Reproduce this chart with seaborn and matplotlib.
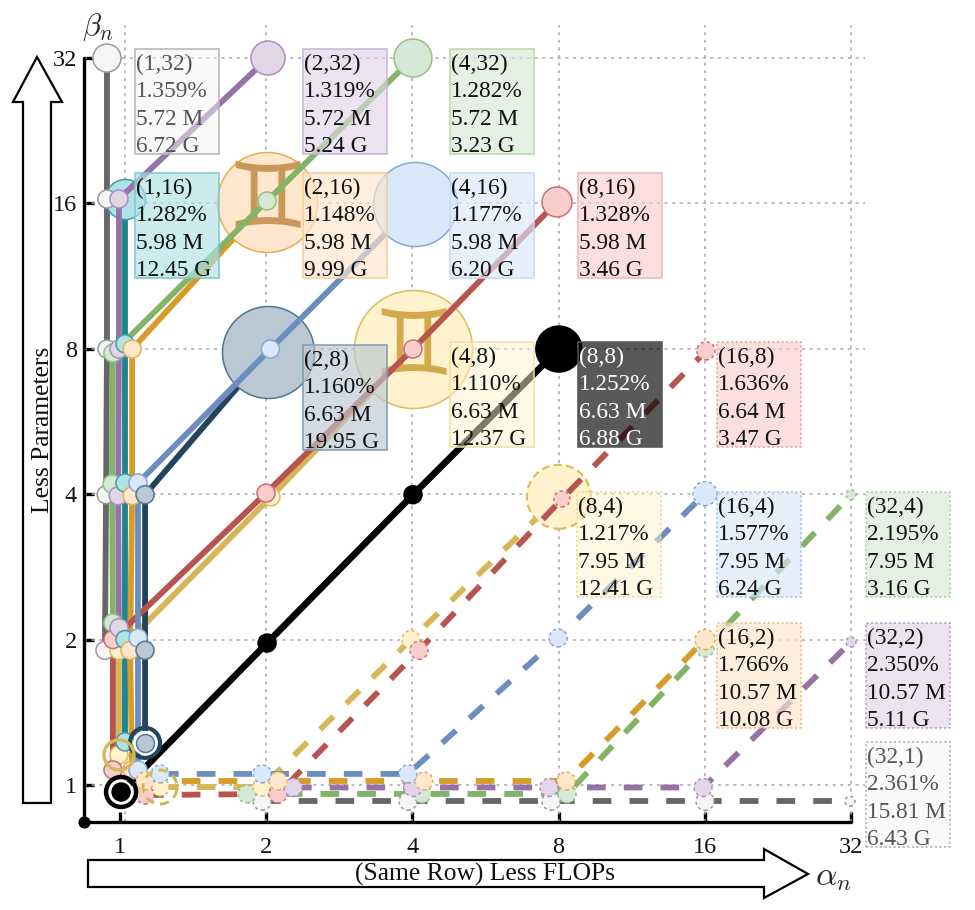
import numpy as np
import matplotlib
matplotlib.use('Agg')
import matplotlib.pyplot as plt
from matplotlib.patches import Rectangle, Polygon
from matplotlib.colors import to_rgba
import seaborn as sns

# tick labels
alpha_ticks = [1, 2, 4, 8, 16, 32]
beta_ticks = [1, 2, 4, 8, 16, 32]

# each config: solid part (a, b, node radius), then dashed part
gray_a = [0.94, 0.94, 0.94, 0.936, 0.931]
gray_b = [32, 16.34, 7.99, 3.99, 1.90]
gray_r = [14, 9, 9, 9, 9]
gray_da = [1.961, 3.917, 7.72, 16.02, 31.85]
gray_db = [0.925, 0.925, 0.925, 0.925, 0.925]
gray_dr = [9, 9, 9, 9, 5]

green_a = [4.011, 2.008, 0.967, 0.963, 0.967]
green_b = [32, 16.19, 7.84, 4.20, 2.165]
green_r = [19, 9, 9, 9, 9]
green_da = [1.826, 4.187, 8.33, 16.02, 32]
green_db = [0.958, 0.958, 0.958, 1.92, 3.99]
green_dr = [9, 9, 9, 9, 5]

red_a = [7.94, 4.011, 1.998, 0.967, 0.967]
red_b = [16.11, 7.99, 4.02, 2.0, 1.074]
red_r = [15, 9, 9, 9, 9]
red_da = [1.126, 2.115, 4.127, 8.13, 16.09]
red_db = [0.953, 0.958, 1.90, 3.91, 7.92]
red_dr = [9, 9, 9, 8, 9]

purple_a = [2.017, 0.995, 0.995, 0.991, 0.995]
purple_b = [32, 16.34, 7.99, 3.97, 2.117]
purple_r = [17, 9, 9, 9, 9]
purple_da = [2.271, 4.011, 7.64, 15.87, 32]
purple_db = [0.988, 0.988, 0.988, 0.988, 1.976]
purple_dr = [9, 9, 9, 9, 5]

yellow_a = [4.011, 2.046, 0.995, 0.995]
yellow_b = [7.99, 3.95, 1.90, 1.154]
yellow_r = [59, 9, 9, 9]
yellow_da = [1.209, 1.961, 3.973, 8.01]
yellow_db = [0.99, 0.99, 2.0, 3.95]
yellow_dr = [9, 9, 9, 32]

teal_a = [1.024, 1.024, 1.024, 1.024, 1.024]
teal_b = [16.34, 8.19, 4.22, 2.0, 1.228]
teal_r = [20, 9, 9, 9, 9]

orange_a = [2.008, 1.059, 1.059, 1.049, 1.059]
orange_b = [16.11, 7.99, 3.97, 1.90, 1.074]
orange_r = [50, 9, 9, 9, 9]
orange_da = [1.126, 2.115, 4.225, 8.29, 16.02]
orange_db = [1.019, 1.019, 1.019, 1.019, 2.0]
orange_dr = [9, 9, 9, 9, 10]

blue_a = [4.05, 2.04, 1.089, 1.089, 1.089]
blue_b = [15.95, 7.99, 4.22, 2.015, 1.074]
blue_r = [42, 9, 9, 9, 9]
blue_da = [1.209, 1.961, 3.917, 7.98, 16.02]
blue_db = [1.054, 1.054, 1.054, 2.015, 4.01]
blue_dr = [9, 9, 9, 9, 12]

navy_a = [2.017, 1.126, 1.126, 1.126]
navy_b = [7.88, 3.99, 1.90, 1.222]
navy_r = [46, 9, 9, 9]

black_a = [8.01, 4.011, 2.008, 1.005]
black_b = [7.99, 3.99, 1.967, 0.967]
black_r = [23, 9, 9, 9]

# annotation boxes
box_names = ['(1,32)', '(1,16)', '(2,32)', '(2,16)', '(4,32)', '(4,16)', '(8,16)',
             '(2,8)', '(4,8)', '(8,8)', '(16,8)', '(8,4)', '(16,4)', '(32,4)',
             '(16,2)', '(32,2)', '(32,1)']
box_err = ['1.359%', '1.282%', '1.319%', '1.148%', '1.282%', '1.177%', '1.328%',
           '1.160%', '1.110%', '1.252%', '1.636%', '1.217%', '1.577%', '2.195%',
           '1.766%', '2.350%', '2.361%']
box_params = ['5.72 M', '5.98 M', '5.72 M', '5.98 M', '5.72 M', '5.98 M', '5.98 M',
              '6.63 M', '6.63 M', '6.63 M', '6.64 M', '7.95 M', '7.95 M', '7.95 M',
              '10.57 M', '10.57 M', '15.81 M']
box_flops = ['6.72 G', '12.45 G', '5.24 G', '9.99 G', '3.23 G', '6.20 G', '3.46 G',
             '19.95 G', '12.37 G', '6.88 G', '3.47 G', '12.41 G', '6.24 G', '3.16 G',
             '10.08 G', '5.11 G', '6.43 G']

W, H = 975, 910
GRAY, GREEN, RED, PURPLE = '#666666', '#82b366', '#b85450', '#9673a6'
YELLOW, TEAL, ORANGE, BLUE, NAVY = '#d6b656', '#1f8490', '#d79b28', '#6c8ebf', '#23445d'

sns.set_theme(style='white')
plt.rcParams['font.family'] = ['Liberation Serif', 'DejaVu Sans']
plt.rcParams['mathtext.fontset'] = 'cm'

fig = plt.figure(figsize=(W / 100, H / 100), dpi=100)
ax = fig.add_axes([84 / W, 1 - 822 / H, (865 - 84) / W, (822 - 25) / H])
ax.patch.set_alpha(0)
ax.set_xscale('log', base=2)
ax.set_yscale('log', base=2)
ax.set_xlim(0.843, 34.2)
ax.set_ylim(0.838, 37.46)

grid_style = dict(color='#a8a8a8', lw=1.1, ls=(0, (2, 3)), zorder=1)
for v in [1.024] + alpha_ticks[1:]:
    ax.axvline(v, **grid_style)
for v in beta_ticks:
    ax.axhline(v, **grid_style)


def radius_to_s(r):
    return (2 * np.asarray(r, dtype=float) * 0.72) ** 2


def draw_nodes(xs, ys, rs, fill, edge, ls, z, big_z):
    xs, ys, rs = np.array(xs), np.array(ys), np.array(rs)
    big = rs >= 20
    if big.any():
        big_ls = '-' if ls == '-' else (0, (3.5, 2))
        sns.scatterplot(x=xs[big], y=ys[big], s=radius_to_s(rs[big]), color=fill, edgecolor=edge,
                        linewidth=1.1 if ls == '-' else 1.6, linestyle=big_ls, zorder=big_z,
                        clip_on=False, ax=ax)
    if (~big).any():
        sns.scatterplot(x=xs[~big], y=ys[~big], s=radius_to_s(rs[~big]), color=fill, edgecolor=edge,
                        linewidth=1.1, linestyle=ls, zorder=z, clip_on=False, ax=ax)


def draw_line(xs, ys, color, ls='-', width=4.2, z=3.0):
    sns.lineplot(x=xs, y=ys, color=color, linewidth=width, linestyle=ls, sort=False,
                 estimator=None, zorder=z, ax=ax, solid_capstyle='butt')


# a line that crosses another config's big circle sits over it, its own circle hides it
series = [
    (gray_a, gray_b, gray_r, gray_da, gray_db, gray_dr, GRAY, '#f5f5f5', '#999999', 3.0, 3.1),
    (green_a, green_b, green_r, green_da, green_db, green_dr, GREEN, '#d5e8d4', '#94c084', 3.2, 3.1),
    (yellow_a, yellow_b, yellow_r, yellow_da, yellow_db, yellow_dr, YELLOW, '#fff2cc', '#dcbc5c', 3.0, 3.1),
    (red_a, red_b, red_r, red_da, red_db, red_dr, RED, '#f8cecc', '#cc6f72', 3.2, 3.1),
    (purple_a, purple_b, purple_r, purple_da, purple_db, purple_dr, PURPLE, '#e1d5e7', '#a98fc0', 3.2, 3.1),
    (teal_a, teal_b, teal_r, [], [], [], TEAL, '#b0e3e6', '#3f9ea8', 3.0, 3.1),
    (orange_a, orange_b, orange_r, orange_da, orange_db, orange_dr, ORANGE, '#ffe6cc', '#e5ae55', 3.0, 3.1),
    (blue_a, blue_b, blue_r, blue_da, blue_db, blue_dr, BLUE, '#dae8fc', '#85a8d8', 3.2, 3.3),
    (navy_a, navy_b, navy_r, [], [], [], NAVY, '#bac8d3', '#517590', 3.0, 3.1),
]

for i, (a, b, r, da, db, dr, line_c, fill_c, edge_c, line_z, big_z) in enumerate(series):
    draw_line(a, b, line_c, z=line_z)
    draw_nodes(a, b, r, fill_c, edge_c, '-', 4 + i * 0.1, big_z)
    if da:
        draw_line(da, db, line_c, ls=(0, (3.2, 3.1)), z=line_z)
        draw_nodes(da, db, dr, fill_c, edge_c, (0, (2, 2)), 5 + i * 0.1, big_z)

draw_line(black_a, black_b, 'black', width=4.8)
sns.scatterplot(x=black_a, y=black_b, s=radius_to_s(black_r), color='black', edgecolor='black',
                zorder=7, clip_on=False, ax=ax)

# rings round the best configs
rings = [(1.126, 1.222, 15, NAVY, 3.0, '-'), (0.995, 1.154, 15, YELLOW, 2.4, '-'),
         (1.209, 0.99, 17, YELLOW, 2.2, (0, (3, 2))), (1.005, 0.967, 15, 'black', 3.2, '-')]
for rx, ry, rr, rc, rw, rls in rings:
    ax.scatter([rx], [ry], s=radius_to_s(rr), facecolor='none', edgecolor=rc, linewidth=rw,
               linestyle=rls, zorder=6.5, clip_on=False)
# white gap inside the rings
for rx, ry in [(1.126, 1.222), (1.005, 0.967)]:
    ax.scatter([rx], [ry], s=radius_to_s(12), facecolor='white', edgecolor='none', zorder=6.2)
sns.scatterplot(x=[navy_a[-1]], y=[navy_b[-1]], s=radius_to_s(9), color='#bac8d3', edgecolor='#517590',
                zorder=6.3, ax=ax)

ax.text(2.008, 16.11, '\u264a', family=['DejaVu Sans'], color='#c9975a', fontsize=66,
        ha='center', va='center', zorder=3.15)
ax.text(4.011, 7.99, '\u264a', family=['DejaVu Sans'], color='#d3a94f', fontsize=66,
        ha='center', va='center', zorder=3.15)

sns.despine(ax=ax)
ax.spines['left'].set_bounds(0.838, 32)
ax.spines['bottom'].set_bounds(0.843, 32)
for s in ['left', 'bottom']:
    ax.spines[s].set_linewidth(2.4)
    ax.spines[s].set_color('black')
    ax.spines[s].set_capstyle('round')
ax.set_xticks(alpha_ticks)
ax.set_xticklabels([str(v) for v in alpha_ticks])
ax.set_yticks(beta_ticks)
ax.set_yticklabels([str(v) for v in beta_ticks])
ax.minorticks_off()
ax.tick_params(axis='both', which='major', direction='in', length=7.5, width=2.4, color='black',
               labelsize=17.5, labelcolor='#111111', left=True, bottom=True)
ax.tick_params(axis='x', pad=11)
ax.tick_params(axis='y', pad=5)
ax.scatter([0.843], [0.838], s=60, color='black', zorder=8, clip_on=False)

# boxes, in picture pixels: left, top
box_xy = [(135, 49), (135, 173), (303, 49), (303, 173), (450, 49), (450, 173), (578, 173),
          (303, 345), (450, 342), (578, 342), (717, 342), (577, 492), (717, 492), (866, 492),
          (717, 623), (866, 623), (866, 742)]
box_fill = ['#f5f5f5', '#b0e3e6', '#e1d5e7', '#ffe6cc', '#d5e8d4', '#dae8fc', '#f8cecc',
            '#bac8d3', '#fff2cc', '#000000', '#f8cecc', '#fff2cc', '#dae8fc', '#d5e8d4',
            '#ffe6cc', '#e1d5e7', '#f5f5f5']
box_edge = ['#b5b5b5', '#7fc6cc', '#c7b5d8', '#f2cf9c', '#b9d8a8', '#c5d9f0', '#ebb7b7',
            '#7f9cb2', '#f0dfa8', '#555555', '#e3a5a5', '#ecd98f', '#a5bfe0', '#a9cf97',
            '#e9bf7a', '#b79cc9', '#b0b0b0']
for i, name in enumerate(box_names):
    x0, y0 = box_xy[i]
    dotted = i >= 10
    alpha = 0.5 if box_fill[i] in ('#f5f5f5', '#fff2cc') else 0.65
    rect = Rectangle((x0 / W, 1 - (y0 + 105) / H), 84 / W, 105 / H, transform=fig.transFigure,
                     facecolor=to_rgba(box_fill[i], alpha), edgecolor=box_edge[i], linewidth=1.1,
                     linestyle=(0, (1.5, 1.5)) if dotted else '-', zorder=10)
    fig.add_artist(rect)
    color = 'white' if name == '(8,8)' else ('#555555' if box_fill[i] == '#f5f5f5' else '#111111')
    fig.text((x0 + 1) / W, 1 - (y0 + 5) / H,
             '\n'.join([name, box_err[i], box_params[i], box_flops[i]]),
             fontsize=16.8, color=color, va='top', ha='left', linespacing=1.39, zorder=11)

# the two big arrows
up_arrow = [(23, 803), (23, 102), (13, 102), (37, 57), (62, 102), (51, 102), (51, 803)]
right_arrow = [(88, 860), (764, 860), (764, 849), (808, 874), (764, 898), (764, 887), (88, 887)]
for pts in [up_arrow, right_arrow]:
    fig.add_artist(Polygon([(x / W, 1 - y / H) for x, y in pts], closed=True,
                           transform=fig.transFigure, facecolor='white', edgecolor='black',
                           linewidth=1.6, zorder=9))
fig.text(43 / W, 1 - 430 / H, 'Less Parameters', rotation=90, fontsize=18.4, color='#111111',
         ha='center', va='center', zorder=11)
fig.text(485 / W, 1 - 874 / H, '(Same Row) Less FLOPs', fontsize=18.4, color='#111111',
         ha='center', va='center', zorder=11)
fig.text(98 / W, 1 - 27 / H, r'$\beta_n$', fontsize=22, ha='center', va='center', zorder=11)
fig.text(833 / W, 1 - 878 / H, r'$\alpha_n$', fontsize=24, ha='center', va='center', zorder=11)

fig.savefig('out.png', dpi=100, facecolor='white')
